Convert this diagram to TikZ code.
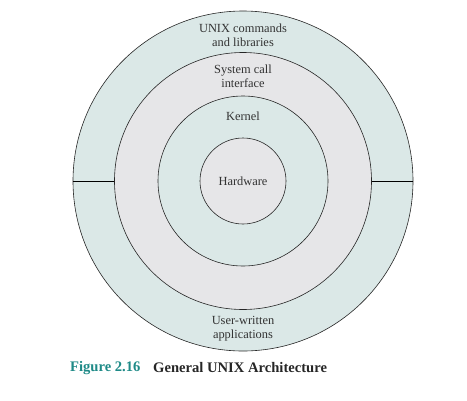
\documentclass[tikz,border=0pt]{standalone}
\usepackage{fontspec}
\setmainfont{Liberation Serif}
\usepackage{xcolor}
\definecolor{ringteal}{HTML}{DBE8E7}
\definecolor{ringgray}{HTML}{E6E6E8}
\definecolor{figteal}{HTML}{1E8A87}
\tikzset{
	ring/.style = {circle, draw = black!85, line width = .6pt, inner sep = 0pt, minimum size = #1},
	lbl/.style = {align = center, font = \fontsize{12.4}{14}\selectfont, text = black!80},
	figcaption/.style = {anchor = west, inner sep = 0pt, font = \fontsize{14.6}{16}\selectfont\bfseries},
}

\begin{document}
\begin{tikzpicture}[x = 1pt, y = 1pt]
	\def\cx{243};
	\def\cy{-181};
	
	\useasboundingbox (0,0) rectangle (467,-400);
	
	\coordinate (centre) at (\cx,\cy);
	
	\node [ring = 340pt, fill = ringteal] (commands) at (centre) {};
	\node [ring = 257pt, fill = ringgray] (syscall) at (centre) {};
	\node [ring = 170pt, fill = ringteal] (kernel) at (centre) {};
	\node [ring = 86pt, fill = ringgray] (hardware) at (centre) {};
	
	\draw [line width = .6pt] (commands.west) -- (syscall.west);
	\draw [line width = .6pt] (commands.east) -- (syscall.east);
	
	\node [lbl] (cmdtext) at (\cx,-35) {UNIX commands\\and libraries};
	\node [lbl] (systext) at (\cx,-76) {System call\\interface};
	\node [lbl] (kertext) at (\cx,-116) {Kernel};
	\node [lbl] (hwtext) at (centre) {Hardware};
	\node [lbl] (usertext) at (\cx,-329) {User-written\\applications};
	
	\node [figcaption, text = figteal] (fignum) at (70,-368) {Figure 2.16};
	\node [figcaption, text = black!85] (figtitle) at (153,-368) {General UNIX Architecture};
\end{tikzpicture}
\end{document}
